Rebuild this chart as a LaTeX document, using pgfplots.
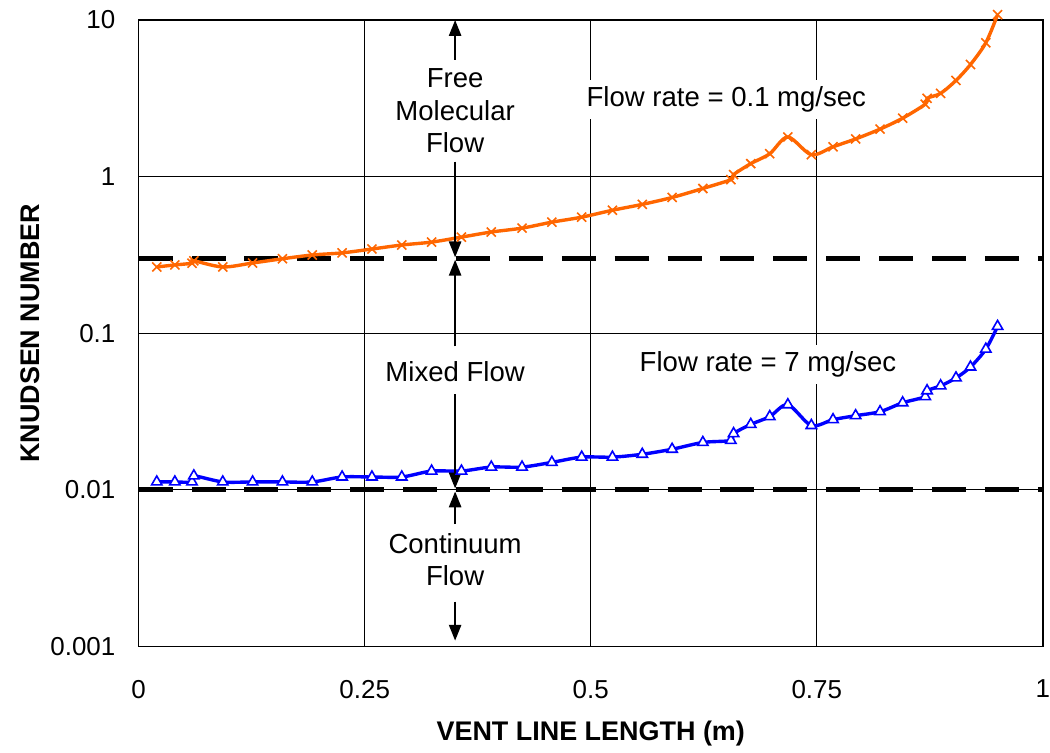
\documentclass[border=0pt]{standalone}
\usepackage{pgfplots}
\pgfplotsset{compat=1.18}
\usepackage{fontspec}
\setmainfont{Liberation Sans}
\usetikzlibrary{arrows.meta}
\definecolor{korange}{HTML}{FF6600}
\definecolor{kblue}{HTML}{0000FF}

\begin{document}
\begin{tikzpicture}
\begin{axis}[
  scale only axis, width=453pt, height=314pt,
  ymode=log, xmin=0, xmax=1, ymin=0.001, ymax=10,
  xtick={0,0.25,0.5,0.75,1}, xticklabels={0,0.25,0.5,0.75,1},
  ytick={0.001,0.01,0.1,1,10}, yticklabels={0.001,0.01,0.1,1,10},
  major tick length=0pt, minor tick length=0pt,
  tick label style={font=\fontsize{13}{15}\selectfont, inner sep=0pt},
  xticklabel style={yshift=-16.5pt},
  yticklabel style={xshift=-11.5pt},
  grid=major, major grid style={black, line width=0.5pt},
  axis line style={line width=0.8pt},
  xlabel={VENT LINE LENGTH (m)}, ylabel={KNUDSEN NUMBER},
  label style={font=\fontsize{13.5}{16}\selectfont\bfseries},
  xlabel style={at={(axis description cs:0.5,-0.139)},anchor=center},
  ylabel style={at={(axis description cs:-0.1203,0.5)},anchor=center},
  clip=false,
]
% regime boundaries
\addplot[black, line width=2.5pt, dash pattern=on 17pt off 9.5pt, forget plot] coordinates {(0,0.3) (1,0.3)};
\addplot[black, line width=2.5pt, dash pattern=on 17pt off 9.5pt, forget plot] coordinates {(0,0.01) (1,0.01)};

% 0.1 mg/sec
\addplot[korange, line width=1.7pt, smooth, tension=0.5, mark=x, mark size=3.2pt,
  mark options={line width=0.8pt, solid}] coordinates {
 (0.020,0.265) (0.040,0.273) (0.059,0.280) (0.061,0.290) (0.093,0.265)
 (0.126,0.281) (0.159,0.299) (0.192,0.316) (0.225,0.326) (0.258,0.345)
 (0.291,0.366) (0.324,0.382) (0.357,0.411) (0.390,0.443) (0.424,0.469)
 (0.457,0.512) (0.490,0.551) (0.524,0.610) (0.557,0.665) (0.590,0.736)
 (0.624,0.840) (0.655,0.957) (0.658,1.03) (0.677,1.21) (0.698,1.40)
 (0.718,1.79) (0.744,1.38) (0.768,1.55) (0.793,1.74) (0.820,2.01)
 (0.845,2.36) (0.870,2.90) (0.872,3.16) (0.887,3.40) (0.904,4.11)
 (0.920,5.19) (0.937,7.15) (0.950,10.8)
};

% 7 mg/sec
\addplot[kblue, line width=1.7pt, smooth, tension=0.5, mark=triangle*, mark size=3pt,
  mark options={line width=0.8pt, solid, fill=white, draw=kblue}] coordinates {
 (0.020,0.01125) (0.040,0.01125) (0.059,0.01125) (0.061,0.0123) (0.093,0.01125)
 (0.126,0.01125) (0.159,0.01125) (0.192,0.01125) (0.225,0.0121) (0.258,0.0121)
 (0.291,0.0121) (0.324,0.0132) (0.357,0.0132) (0.390,0.0140) (0.424,0.0140)
 (0.457,0.0150) (0.490,0.0162) (0.524,0.0162) (0.557,0.0169) (0.590,0.0182)
 (0.624,0.0201) (0.655,0.0207) (0.658,0.0229) (0.677,0.0262) (0.698,0.0294)
 (0.718,0.0350) (0.744,0.0258) (0.768,0.0281) (0.793,0.0298) (0.820,0.0316)
 (0.845,0.0360) (0.870,0.0394) (0.872,0.0430) (0.887,0.0462) (0.904,0.0519)
 (0.920,0.0609) (0.937,0.0792) (0.950,0.1107)
};

% regime arrows
\draw[line width=1.3pt, -{Triangle[length=8pt,width=6pt]}] (axis cs:0.35,5.56) -- (axis cs:0.35,10);
\draw[line width=1.3pt, -{Triangle[length=8pt,width=6pt]}] (axis cs:0.35,1.246) -- (axis cs:0.35,0.305);
\draw[line width=1.3pt, -{Triangle[length=8pt,width=6pt]}] (axis cs:0.35,0.0826) -- (axis cs:0.35,0.295);
\draw[line width=1.3pt, -{Triangle[length=8pt,width=6pt]}] (axis cs:0.35,0.0408) -- (axis cs:0.35,0.0102);
\draw[line width=1.3pt, -{Triangle[length=8pt,width=6pt]}] (axis cs:0.35,0.00606) -- (axis cs:0.35,0.0098);
\draw[line width=1.3pt, -{Triangle[length=8pt,width=6pt]}] (axis cs:0.35,0.00194) -- (axis cs:0.35,0.00109);

\node[align=center, font=\fontsize{13.8}{16.3}\selectfont] at (axis cs:0.35,2.63) {Free\\Molecular\\Flow};
\node[font=\fontsize{13.8}{16.3}\selectfont] at (axis cs:0.35,0.0573) {Mixed Flow};
\node[align=center, font=\fontsize{13.8}{16.3}\selectfont] at (axis cs:0.35,0.00358) {Continuum\\Flow};
\node[fill=white, font=\fontsize{13.8}{16.3}\selectfont] at (axis cs:0.650,3.09) {Flow rate = 0.1 mg/sec};
\node[fill=white, font=\fontsize{13.8}{16.3}\selectfont] at (axis cs:0.696,0.0635) {Flow rate = 7 mg/sec};

% page extent
\path (axis description cs:-0.1534,-0.1624) rectangle (axis description cs:1.0055,1.0318);
\end{axis}
\end{tikzpicture}
\end{document}
